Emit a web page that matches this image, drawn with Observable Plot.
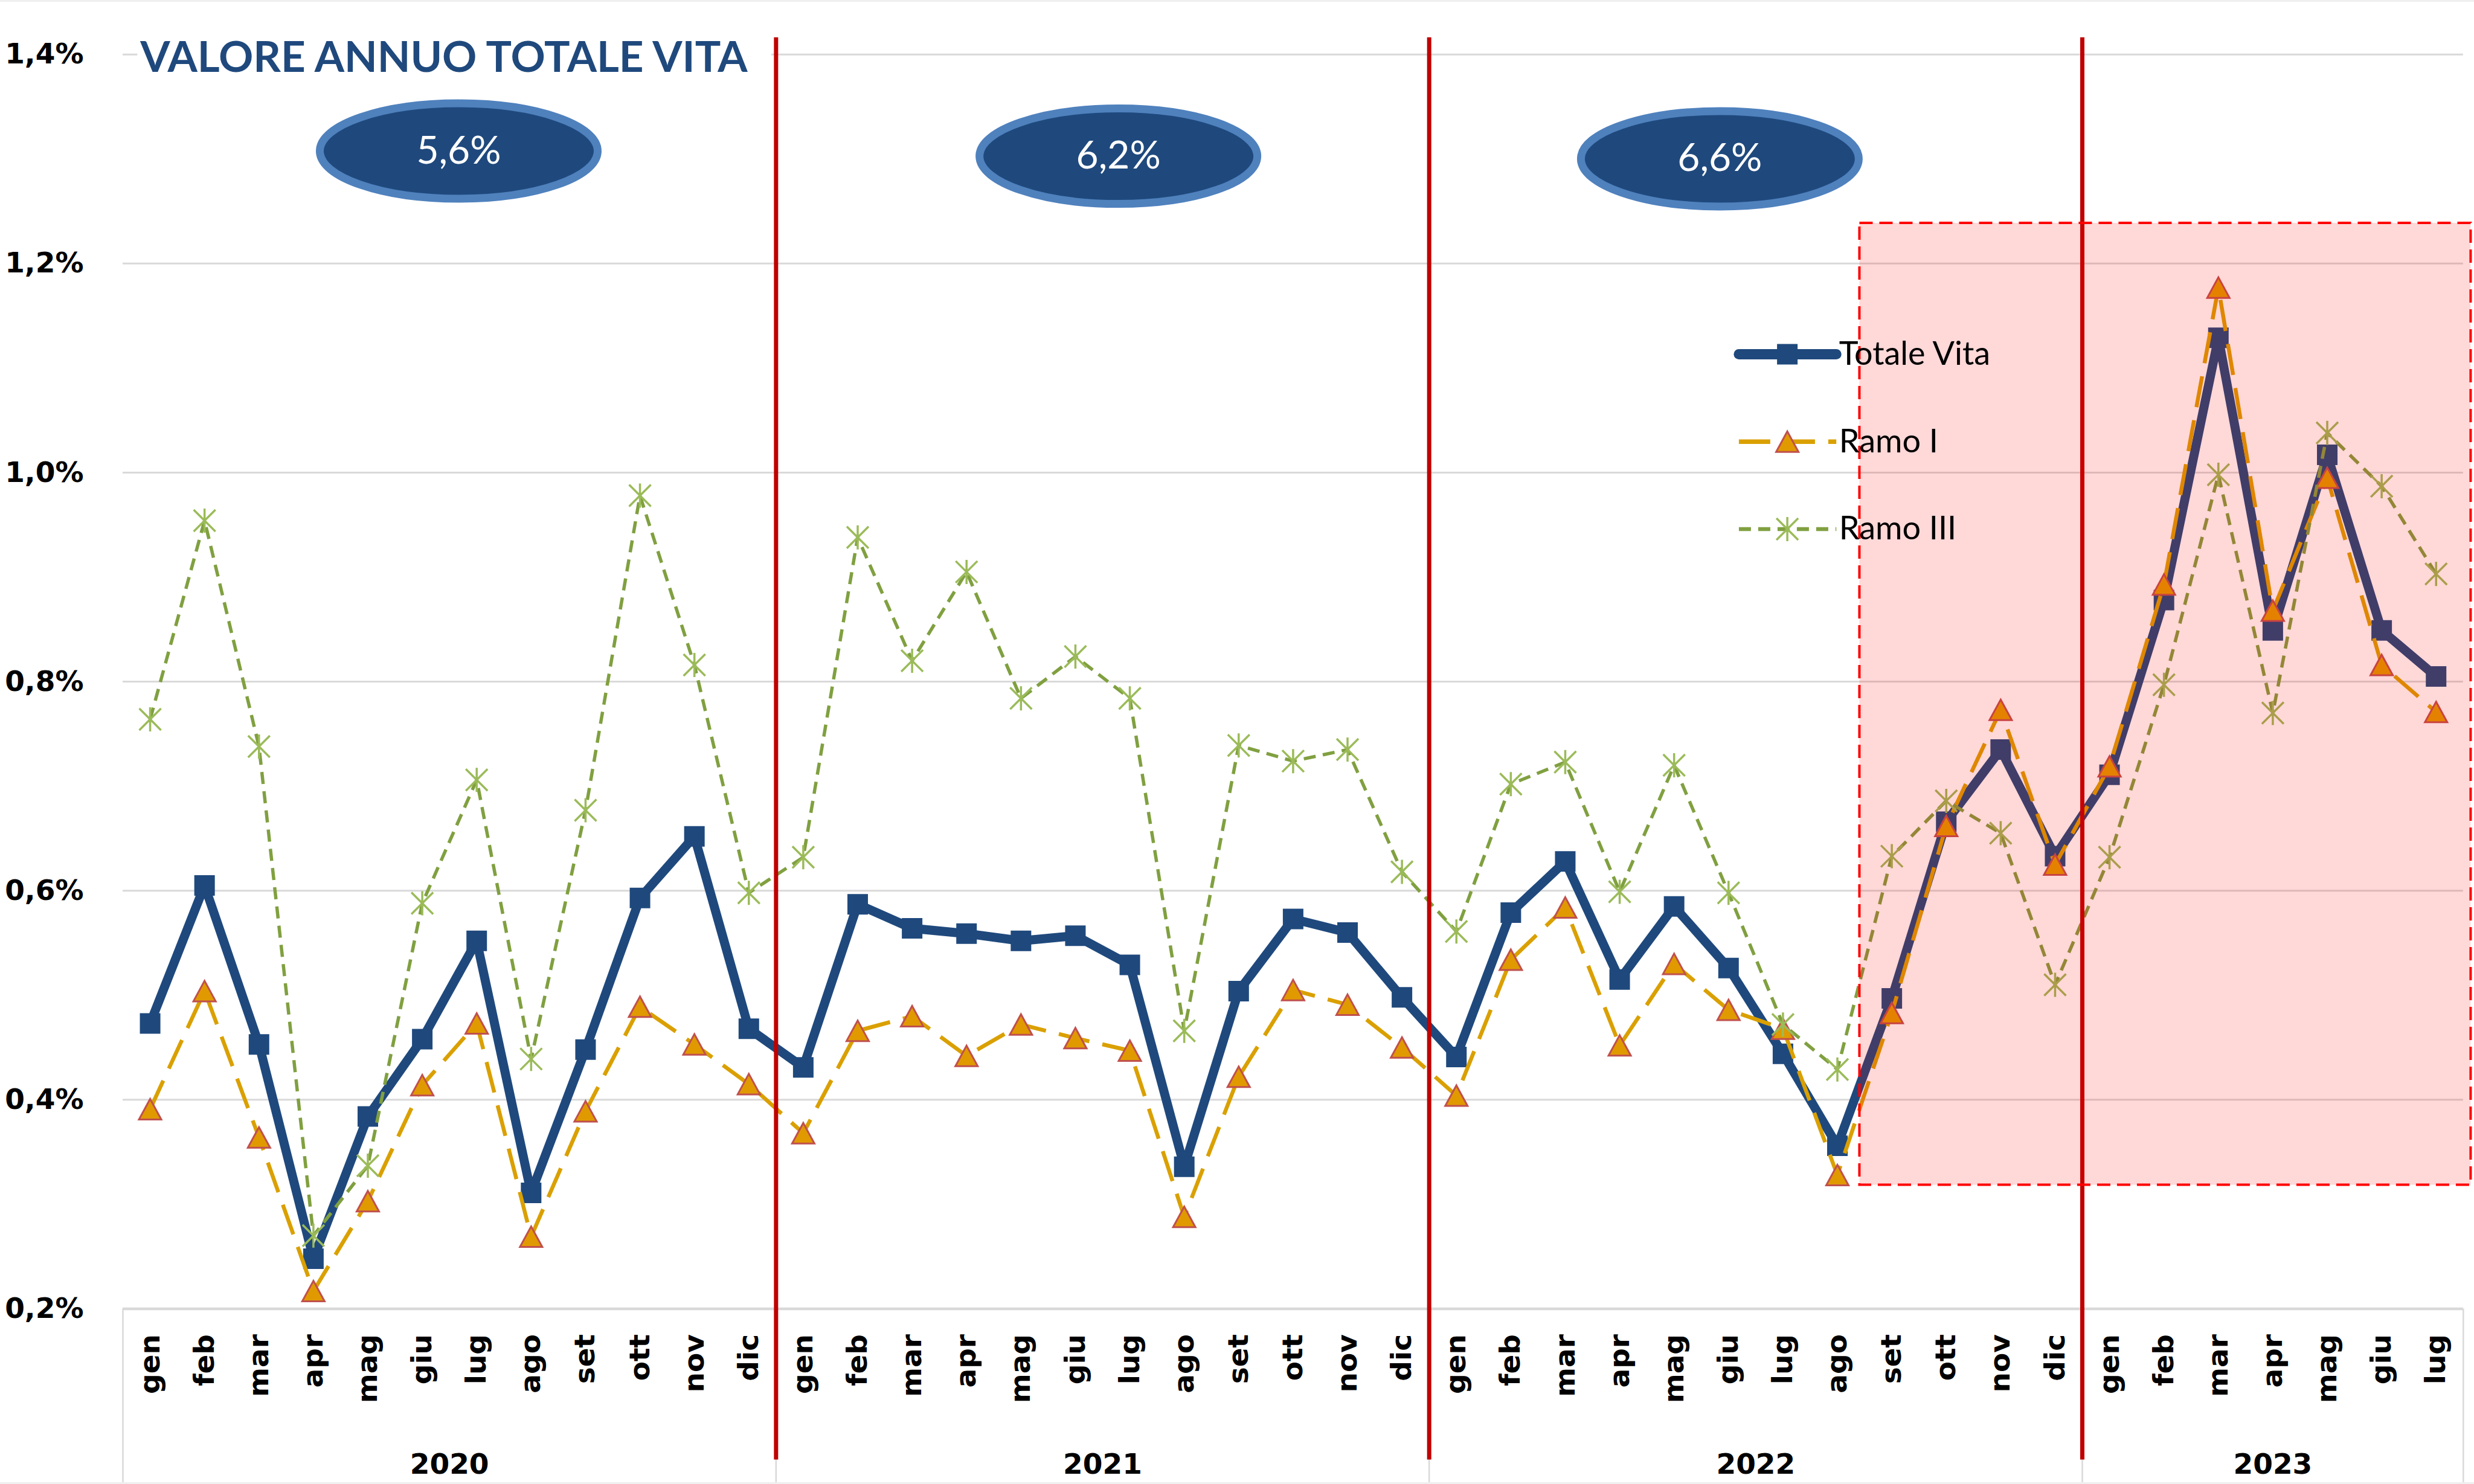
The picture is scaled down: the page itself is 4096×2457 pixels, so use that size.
<!DOCTYPE html>
<html><head><meta charset="utf-8">
<script src="https://cdn.jsdelivr.net/npm/d3@7"></script>
<script src="https://cdn.jsdelivr.net/npm/@observablehq/plot@0.6"></script>
<style>
html,body{margin:0;padding:0;background:#fff;}
#chart{position:relative;width:4096px;height:2457px;overflow:hidden;background:#fff;}
#chart svg{display:block;}
.edge{position:absolute;left:0;width:4096px;height:3px;background:#EFEFEF;z-index:2;}
</style></head><body>
<div id="chart"><div class="edge" style="top:0"></div><div class="edge" style="bottom:0"></div></div>
<script>
// ---------- data ----------
const months = ["gen","feb","mar","apr","mag","giu","lug","ago","set","ott","nov","dic"];
const years = ["2020","2021","2022","2023"];
const monthsPerYear = [12, 12, 12, 7];
const seriesNames = ["Totale Vita", "Ramo I", "Ramo III"];

const totaleVita = [
  0.473, 0.605, 0.453, 0.248, 0.384, 0.458, 0.552, 0.311, 0.448, 0.593, 0.652, 0.468,
  0.431, 0.587, 0.564, 0.559, 0.552, 0.557, 0.529, 0.336, 0.504, 0.573, 0.560, 0.498,
  0.441, 0.579, 0.628, 0.515, 0.585, 0.526, 0.444, 0.356, 0.497, 0.666, 0.735, 0.633,
  0.711, 0.878, 1.129, 0.849, 1.017, 0.849, 0.805
];
const ramoI = [
  0.391, 0.504, 0.364, 0.217, 0.303, 0.414, 0.473, 0.269, 0.389, 0.489, 0.453, 0.415,
  0.368, 0.466, 0.480, 0.442, 0.472, 0.459, 0.447, 0.288, 0.422, 0.505, 0.491, 0.450,
  0.404, 0.534, 0.584, 0.452, 0.530, 0.486, 0.468, 0.328, 0.483, 0.662, 0.773, 0.625,
  0.719, 0.893, 1.177, 0.868, 0.995, 0.816, 0.771
];
const ramoIII = [
  0.764, 0.954, 0.738, 0.270, 0.337, 0.588, 0.706, 0.439, 0.677, 0.978, 0.816, 0.598,
  0.632, 0.938, 0.820, 0.905, 0.784, 0.824, 0.784, 0.466, 0.739, 0.724, 0.735, 0.618,
  0.561, 0.702, 0.723, 0.599, 0.720, 0.598, 0.472, 0.429, 0.633, 0.686, 0.655, 0.510,
  0.632, 0.797, 0.998, 0.770, 1.038, 0.987, 0.903
];
const yTicks = [0.2, 0.4, 0.6, 0.8, 1.0, 1.2, 1.4];
const titleText = "VALORE ANNUO TOTALE VITA";
const annualLabels = ["5,6%", "6,2%", "6,6%"];

// ---------- annotation layout (in scale units) ----------
const annualPos = {x: [5.67, 17.79, 28.84], y: [1.3076, 1.3027, 1.3002]};
const highlightBox = {x1: 31.41, x2: 42.64, y1: 0.3184, y2: 1.2386};
const titleBox = {x1: -0.23, x2: 11.42, y1: 1.3818, y2: 1.4168};
const titlePos = {x: -0.18, y: 1.3835};
const legendPos = {x1: 29.19, x2: 30.98, xm: 30.08, xt: 31.03, y: [1.1132, 1.0296, 0.9459]};

// ---------- build tables ----------
const rows = [];
const yearRows = [];
let k = 0;
years.forEach((yr, yi) => {
  const start = k;
  for (let m = 0; m < monthsPerYear[yi]; m++) {
    rows.push({i: k, month: months[m], year: yr, tv: totaleVita[k], r1: ramoI[k], r3: ramoIII[k]});
    k++;
  }
  yearRows.push({year: yr, center: start + (monthsPerYear[yi] - 1) / 2, end: k - 0.5});
});
const boundaries = [-0.5, ...yearRows.map(d => d.end)];
const yearSeparators = yearRows.slice(0, -1).map(d => d.end);

// ---------- symbols ----------
const squareSym = {draw(ctx) { const s = 17; ctx.moveTo(-s, -s); ctx.lineTo(s, -s); ctx.lineTo(s, s); ctx.lineTo(-s, s); ctx.closePath(); }};
const triSym = {draw(ctx) { const w = 18.5, h = 17; ctx.moveTo(0, -h); ctx.lineTo(w, h); ctx.lineTo(-w, h); ctx.closePath(); }};
const starSym = {draw(ctx) { const r = 20, d = 18; ctx.moveTo(0, -r); ctx.lineTo(0, r); ctx.moveTo(-d, -d); ctx.lineTo(d, d); ctx.moveTo(-d, d); ctx.lineTo(d, -d); }};
function ellipseSym(rx, ry) {
  const c = 0.5523;
  return {draw(ctx) {
    ctx.moveTo(rx, 0);
    ctx.bezierCurveTo(rx, ry * c, rx * c, ry, 0, ry);
    ctx.bezierCurveTo(-rx * c, ry, -rx, ry * c, -rx, 0);
    ctx.bezierCurveTo(-rx, -ry * c, -rx * c, -ry, 0, -ry);
    ctx.bezierCurveTo(rx * c, -ry, rx, -ry * c, rx, 0);
    ctx.closePath();
  }};
}

const styles = [
  {key: "tv", stroke: "#1F497D", strokeWidth: 15, dash: null, symbol: squareSym, fill: "#1F497D", mstroke: "none", mwidth: 0},
  {key: "r1", stroke: "#DAA000", strokeWidth: 6.5, dash: "52,22", symbol: triSym, fill: "#E09A00", mstroke: "#C0504D", mwidth: 3},
  {key: "r3", stroke: "#80A040", strokeWidth: 5.5, dash: "20,12", symbol: starSym, fill: "none", mstroke: "#9BBB59", mwidth: 3.5}
];

const fmt = d => d.toFixed(1).replace(".", ",") + "%";
const axisFont = "DejaVu Sans";

const marks = [];
// grid + axis line
marks.push(Plot.gridY(yTicks.filter(t => t > 0.2), {stroke: "#D9D9D9", strokeOpacity: 1, strokeWidth: 3}));
marks.push(Plot.ruleY([0.2], {stroke: "#D9D9D9", strokeWidth: 4.5}));
// category group separators below axis
marks.push(Plot.ruleX(boundaries, {stroke: "#D9D9D9", strokeWidth: 2.5, insetTop: 2076.8, insetBottom: -287.5}));
// title background
marks.push(Plot.rect([titleBox], {x1: "x1", x2: "x2", y1: "y1", y2: "y2", fill: "white"}));
// series
styles.forEach(s => {
  marks.push(Plot.line(rows, {x: "i", y: s.key, stroke: s.stroke, strokeWidth: s.strokeWidth,
    strokeDasharray: s.dash, strokeLinejoin: "round", strokeLinecap: s.dash ? "butt" : "round"}));
  marks.push(Plot.dot(rows, {x: "i", y: s.key, symbol: s.symbol, r: 10, fill: s.fill,
    stroke: s.mstroke, strokeWidth: s.mwidth}));
});
// year separators (red)
marks.push(Plot.ruleX(yearSeparators, {stroke: "#C00000", strokeWidth: 7, insetTop: -28, insetBottom: -250}));
// highlight box
marks.push(Plot.rect([highlightBox], {x1: "x1", x2: "x2", y1: "y1", y2: "y2", fill: "#FF0000", fillOpacity: 0.153,
  stroke: "#FF0000", strokeWidth: 4, strokeDasharray: "22,11"}));
// annual ellipses
const annualRows = annualLabels.map((t, j) => ({t, x: annualPos.x[j], y: annualPos.y[j]}));
marks.push(Plot.dot(annualRows, {x: "x", y: "y", symbol: ellipseSym(230, 79), r: 10, fill: "#1F497D", stroke: "#4F81BD", strokeWidth: 13}));
marks.push(Plot.text(annualRows, {x: "x", y: "y", text: "t", fill: "white", fontSize: 64, fontFamily: "Lato", lineAnchor: "middle"}));
// title
marks.push(Plot.text([titleText], {x: () => titlePos.x, y: () => titlePos.y, text: d => d, textAnchor: "start", lineAnchor: "bottom",
  fill: "#1F497D", fontSize: 71, fontWeight: "bold", fontFamily: "Lato"}));
// legend
styles.forEach((s, j) => {
  const ly = legendPos.y[j];
  marks.push(Plot.line([{x: legendPos.x1, y: ly}, {x: legendPos.x2, y: ly}], {x: "x", y: "y", stroke: s.stroke,
    strokeWidth: j === 0 ? 17 : s.strokeWidth + 1, strokeDasharray: s.dash, strokeLinecap: s.dash ? "butt" : "round"}));
  marks.push(Plot.dot([{x: legendPos.xm, y: ly}], {x: "x", y: "y", symbol: s.symbol, r: 10, fill: s.fill, stroke: s.mstroke, strokeWidth: s.mwidth}));
});
marks.push(Plot.text(seriesNames.map((n, j) => ({n, y: legendPos.y[j]})), {x: () => legendPos.xt, y: "y", text: "n",
  textAnchor: "start", lineAnchor: "middle", fill: "#000", fontSize: 54, fontFamily: "Lato"}));
// y axis
marks.push(Plot.axisY(yTicks, {tickSize: 0, tickPadding: 65, tickFormat: fmt, fontSize: 47, fontWeight: "bold",
  fontFamily: axisFont, fill: "#000", label: null}));
// month labels
marks.push(Plot.text(rows, {x: "i", text: "month", frameAnchor: "bottom", rotate: -90, textAnchor: "end", lineAnchor: "middle",
  dy: 42, fontSize: 47, fontWeight: "bold", fontFamily: axisFont, fill: "#000"}));
// year labels
marks.push(Plot.text(yearRows, {x: "center", text: "year", frameAnchor: "bottom", lineAnchor: "middle",
  dy: 258, fontSize: 47, fontWeight: "bold", fontFamily: axisFont, fill: "#000"}));

const chart = Plot.plot({
  width: 4096,
  height: 2457,
  marginLeft: 203,
  marginRight: 18.2,
  marginTop: 89.7,
  marginBottom: 290.5,
  style: {background: "white", fontFamily: "Lato"},
  x: {type: "linear", domain: [-0.5, 42.5], axis: null},
  y: {domain: [0.2, 1.4]},
  marks
});
document.getElementById("chart").appendChild(chart);
</script>
</body></html>
